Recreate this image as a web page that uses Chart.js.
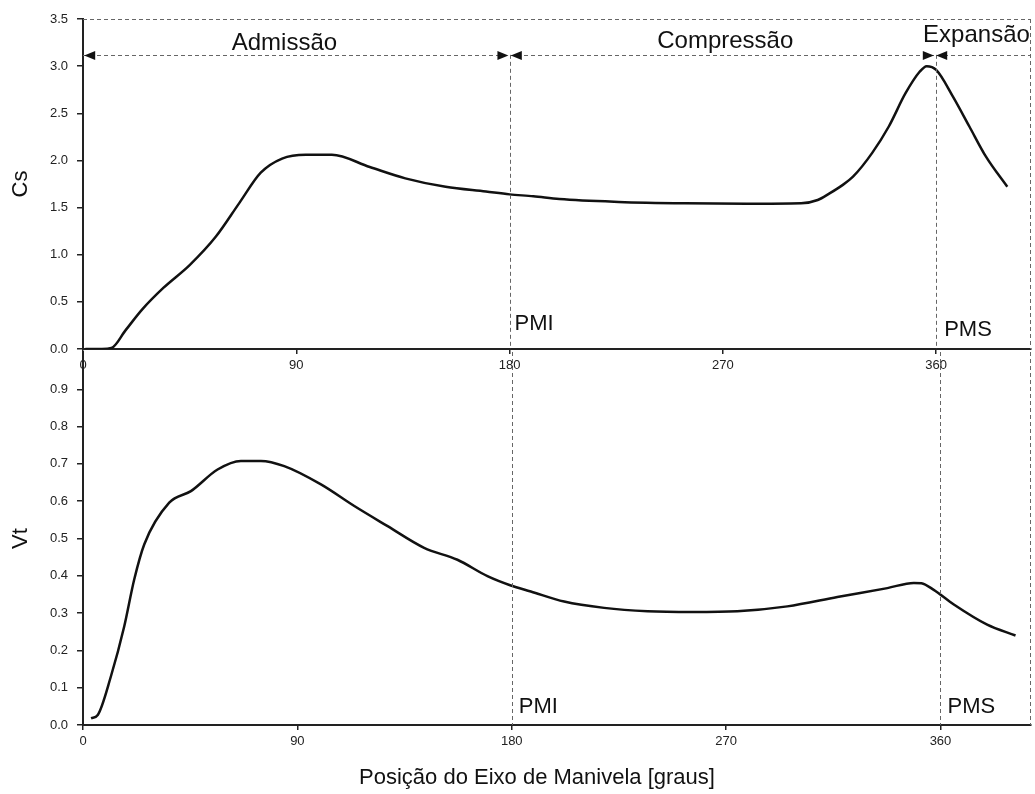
<!DOCTYPE html>
<html>
<head>
<meta charset="utf-8">
<script src="https://cdn.jsdelivr.net/npm/chart.js@4.4.0/dist/chart.umd.min.js"></script>
<style>
  html, body { margin: 0; padding: 0; background: #fff; }
  #wrap { position: relative; width: 1035px; height: 794px; }
  canvas { position: absolute; left: 0; top: 0; }
</style>
</head>
<body>
<div id="wrap">
  <canvas id="bot" width="1035" height="794"></canvas>
  <canvas id="top" width="1035" height="385"></canvas>
</div>
<script>
// ---- Data ----
const csX = [1, 8, 12, 18, 25, 34, 45, 56, 66, 75, 84, 94, 105, 121, 136, 153, 170, 180, 190, 201, 226, 254, 280, 303, 310, 315, 320, 325, 333, 340, 347, 353, 356, 360, 367, 374, 381, 390];
const csY = [0, 0, 0.01, 0.2, 0.42, 0.65, 0.89, 1.19, 1.55, 1.87, 2.02, 2.06, 2.06, 1.93, 1.81, 1.72, 1.67, 1.64, 1.62, 1.59, 1.56, 1.545, 1.54, 1.545, 1.58, 1.65, 1.73, 1.83, 2.08, 2.36, 2.71, 2.94, 3.0, 2.96, 2.68, 2.36, 2.04, 1.72];

const vtX = [3.4, 6.2, 11.7, 17.3, 21.5, 25.7, 36.2, 45.3, 56.5, 66.3, 74.7, 84.5, 99.9, 113.9, 127.9, 143.2, 157.2, 169.8, 179.6, 188, 202, 218.8, 237, 256, 274.7, 295.7, 316.7, 337.7, 348.8, 352, 357, 365.6, 379.6, 391.5];
const vtY = [0.018, 0.027, 0.13, 0.264, 0.39, 0.484, 0.596, 0.627, 0.685, 0.708, 0.708, 0.694, 0.645, 0.587, 0.533, 0.475, 0.443, 0.399, 0.374, 0.358, 0.331, 0.314, 0.305, 0.303, 0.305, 0.318, 0.343, 0.367, 0.381, 0.38, 0.363, 0.323, 0.269, 0.24];

const xTicks = [0, 90, 180, 270, 360];
const csTicks = [0, 0.5, 1.0, 1.5, 2.0, 2.5, 3.0, 3.5];
const vtTicks = [0, 0.1, 0.2, 0.3, 0.4, 0.5, 0.6, 0.7, 0.8, 0.9];

const phases = [
  { text: 'Admissão', x: 85, y: 3.17 },
  { text: 'Compressão', x: 271, y: 3.19 },
  { text: 'Expansão', x: 377, y: 3.26 }
];
const dividers = [180, 360];

const FONT = '"Liberation Sans", Arial, sans-serif';

const annotPlugin = {
  id: 'annot',
  afterDatasetsDraw(chart, args, o) {
    const { ctx, chartArea: a } = chart;
    const x = chart.scales.x, y = chart.scales.y;
    const line = (x1, y1, x2, y2) => { ctx.beginPath(); ctx.moveTo(x1, y1); ctx.lineTo(x2, y2); ctx.stroke(); };
    ctx.save();
    ctx.strokeStyle = '#666';
    ctx.lineWidth = 1;
    ctx.setLineDash([4, 3]);
    line(Math.round(a.right) - 0.5, a.top, Math.round(a.right) - 0.5, a.bottom);
    if (o.topBorder) line(a.left, Math.round(a.top) + 0.5, a.right, Math.round(a.top) + 0.5);
    dividers.forEach(v => {
      const px = Math.round(x.getPixelForValue(v)) + 0.5;
      line(px, y.getPixelForValue(o.vTop), px, a.bottom);
    });
    if (o.arrowY != null) {
      const py = Math.round(y.getPixelForValue(o.arrowY)) + 0.5;
      line(a.left, py, a.right, py);
      ctx.setLineDash([]);
      ctx.fillStyle = '#111';
      const head = (v, dir) => {
        const px = x.getPixelForValue(v);
        ctx.beginPath();
        ctx.moveTo(px, py);
        ctx.lineTo(px - dir * 11, py - 4.5);
        ctx.lineTo(px - dir * 11, py + 4.5);
        ctx.closePath();
        ctx.fill();
      };
      head(0.5, -1);
      head(179.5, 1); head(180.5, -1);
      head(359, 1); head(360, -1);
      ctx.font = '24px ' + FONT;
      ctx.textAlign = 'center';
      ctx.textBaseline = 'alphabetic';
      phases.forEach(p => ctx.fillText(p.text, x.getPixelForValue(p.x), y.getPixelForValue(p.y)));
    }
    ctx.setLineDash([]);
    ctx.fillStyle = '#111';
    ctx.font = '22px ' + FONT;
    ctx.textAlign = 'left';
    ctx.textBaseline = 'alphabetic';
    o.marks.forEach(m => ctx.fillText(m.text, x.getPixelForValue(m.x) + m.dx, y.getPixelForValue(m.y)));
    if (o.xTitle) {
      ctx.font = '22px ' + FONT;
      ctx.textAlign = 'center';
      ctx.fillText(o.xTitle, (a.left + a.right) / 2 - 20, 784);
    }
    ctx.restore();
  }
};
Chart.register(annotPlugin);

function pts(xs, ys) { return xs.map((v, i) => ({ x: v, y: ys[i] })); }

function xScale(max, height) {
  return {
    type: 'linear', min: 0, max,
    afterBuildTicks: s => { s.ticks = xTicks.map(v => ({ value: v })); },
    afterFit: s => { s.height = height; },
    border: { display: true, color: '#222', width: 2 },
    grid: { display: true, drawOnChartArea: false, drawTicks: true, tickLength: 5, color: '#222', lineWidth: 1.5 },
    ticks: { color: '#222', padding: 4, maxRotation: 0, font: { family: FONT, size: 13 }, callback: v => String(v) },
    title: { display: false }
  };
}

function yScale(min, max, ticks, title) {
  return {
    type: 'linear', min, max,
    afterBuildTicks: s => { s.ticks = ticks.map(v => ({ value: v })); },
    afterFit: s => { s.width = 83; },
    border: { display: true, color: '#222', width: 2 },
    grid: { display: true, drawOnChartArea: false, drawTicks: true, tickLength: 6, color: '#222', lineWidth: 1.5 },
    ticks: { color: '#222', padding: 9, font: { family: FONT, size: 13 }, callback: v => v.toFixed(1) },
    title: { display: true, text: title, color: '#111', font: { family: FONT, size: 22 }, padding: { top: 8, bottom: 0 } }
  };
}

const lineDs = (data) => ({
  data, borderColor: '#111', borderWidth: 2.5, pointRadius: 0, fill: false,
  cubicInterpolationMode: 'monotone'
});

new Chart(document.getElementById('top'), {
  type: 'line',
  data: { datasets: [lineDs(pts(csX, csY))] },
  options: {
    responsive: false, animation: false,
    layout: { padding: { top: 19, right: 4, left: 0, bottom: 0 } },
    plugins: {
      legend: { display: false }, tooltip: { enabled: false },
      annot: {
        topBorder: true, arrowY: 3.12, vTop: 3.12,
        marks: [ { text: 'PMI', x: 180, y: 0.2, dx: 5 }, { text: 'PMS', x: 360, y: 0.14, dx: 8 } ]
      }
    },
    scales: { x: xScale(400, 36), y: yScale(0, 3.5, csTicks, 'Cs') }
  }
});

new Chart(document.getElementById('bot'), {
  type: 'line',
  data: { datasets: [lineDs(pts(vtX, vtY))] },
  options: {
    responsive: false, animation: false,
    layout: { padding: { top: 352, right: 4, left: 0, bottom: 0 } },
    plugins: {
      legend: { display: false }, tooltip: { enabled: false },
      annot: {
        topBorder: false, arrowY: null, vTop: 1.0,
        xTitle: 'Posição do Eixo de Manivela [graus]',
        marks: [ { text: 'PMI', x: 180, y: 0.032, dx: 7 }, { text: 'PMS', x: 360, y: 0.032, dx: 7 } ]
      }
    },
    scales: { x: xScale(398, 69), y: yScale(0, 1.0, vtTicks, 'Vt') }
  }
});
</script>
</body>
</html>
